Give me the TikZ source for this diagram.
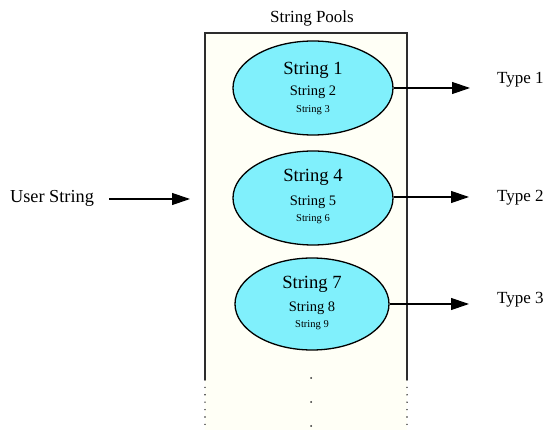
\documentclass[tikz,border=0pt]{standalone}
\usepackage{fontspec}
\setmainfont{Liberation Serif}
\usetikzlibrary{arrows.meta,shapes.geometric}
\definecolor{poolfill}{RGB}{255,255,246}
\definecolor{cellfill}{RGB}{128,240,252}
\definecolor{frame}{RGB}{45,45,45}
\tikzset{
  cell/.style={ellipse, draw=black, line width=1.3pt, fill=cellfill,
    minimum width=160pt, minimum height=94pt, inner sep=0pt},
  bigtxt/.style={font=\fontsize{18.6}{20}\selectfont, inner sep=0pt},
  midtxt/.style={font=\fontsize{14.5}{16}\selectfont, inner sep=0pt},
  smalltxt/.style={font=\fontsize{10.5}{12}\selectfont, inner sep=0pt},
  lbl/.style={font=\fontsize{17}{19}\selectfont, inner sep=0pt},
  flow/.style={line width=1.2pt, -{Triangle[length=18pt,width=12pt]}},
  wall/.style={draw=frame, line width=1.6pt},
  dotwall/.style={draw=frame, line width=1.6pt, line cap=round,
    dash pattern=on 0pt off 7.4pt},
}
\begin{document}
\begin{tikzpicture}[x=1pt,y=-1pt]
\useasboundingbox (0,0) rectangle (547,430);

% pool container
\coordinate (tl) at (205,33);
\coordinate (tr) at (407,33);
\coordinate (bl) at (205,380);
\coordinate (br) at (407,380);
\coordinate (ble) at (205,430);
\coordinate (bre) at (407,430);
\fill[poolfill] (tl) rectangle (bre);
\draw[wall] (bl) -- (tl) -- (tr) -- (br);
\draw[dotwall] (bl) -- (ble);
\draw[dotwall] (br) -- (bre);
\node[lbl] (title) at (312,18) {String Pools};

% continuation dots
\node[circle, fill=frame, inner sep=0pt, minimum size=2pt] (d1) at (311,378) {};
\node[circle, fill=frame, inner sep=0pt, minimum size=2pt] (d2) at (311,402) {};
\node[circle, fill=frame, inner sep=0pt, minimum size=2pt] (d3) at (311,426) {};

% string cells
\node[cell] (c1) at (313,88) {};
\node[bigtxt] (s1) at (313,70) {String 1};
\node[midtxt] (s2) at (313,92) {String 2};
\node[smalltxt] (s3) at (313,110) {String 3};

\node[cell] (c2) at (313,198) {};
\node[bigtxt] (s4) at (313,177) {String 4};
\node[midtxt] (s5) at (313,202) {String 5};
\node[smalltxt] (s6) at (313,219) {String 6};

\node[cell, minimum width=154pt, minimum height=92pt] (c3) at (312,304) {};
\node[bigtxt] (s7) at (312,284) {String 7};
\node[midtxt] (s8) at (312,308) {String 8};
\node[smalltxt] (s9) at (312,325) {String 9};

% input
\node[lbl, font=\fontsize{18.3}{20}\selectfont] (user) at (52,198) {User String};
\coordinate (uin) at (109,199);
\coordinate (uend) at (190,199);
\draw[flow] (uin) -- (uend);

% outputs
\node[lbl, anchor=west] (t1) at (497,80) {Type 1};
\node[lbl, anchor=west] (t2) at (497,198) {Type 2};
\node[lbl, anchor=west] (t3) at (497,300) {Type 3};
\coordinate (e1) at (470,88);
\coordinate (e2) at (469,197);
\coordinate (e3) at (469,304);
\draw[flow] (c1.east) -- (e1);
\draw[flow] (c2.east |- e2) -- (e2);
\draw[flow] (c3.east |- e3) -- (e3);
\end{tikzpicture}
\end{document}
